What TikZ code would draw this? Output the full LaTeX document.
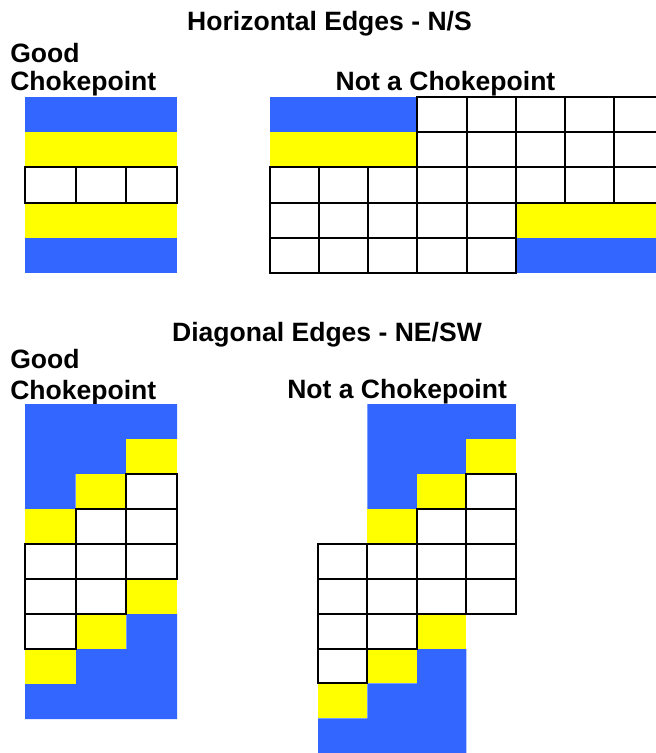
\documentclass[tikz,border=0pt]{standalone}
\usepackage{fontspec}
\setmainfont{Liberation Sans}
\definecolor{cell-blue}{HTML}{3366FF}
\definecolor{cell-yellow}{HTML}{FFFF00}

\begin{document}
\begin{tikzpicture}[x=0.75pt, y=-0.75pt,
      every node/.style={font=\fontsize{19.9}{24}\selectfont\bfseries, inner sep=0pt},
      bluecell/.style={fill=cell-blue},
      yellowcell/.style={fill=cell-yellow},
      whitecell/.style={draw=black, line width=1.5pt, fill=white}]
    \useasboundingbox (0,0) rectangle (656,753);
    \clip (0,0) rectangle (656,753);

    \node[anchor=base] (HT) at (329.5,30) {Horizontal Edges - N/S};
    \node[anchor=base west] (HG1) at (10,62) {Good};
    \node[anchor=base west] (HG2) at (10,90) {Chokepoint};
    \node[anchor=base] (HN) at (445.5,90) {Not a Chokepoint};

    \node[anchor=base] (DT) at (327,341.5) {Diagonal Edges - NE/SW};
    \node[anchor=base west] (DG1) at (10,368) {Good};
    \node[anchor=base west] (DG2) at (10,399) {Chokepoint};
    \node[anchor=base west] (DN) at (287,398.5) {Not a Chokepoint};

    % horizontal, good
    \begin{scope}[shift={(25,97)}, x=38pt, y=-26.4pt]
      \fill[bluecell] (0,0) rectangle (3,1);
      \fill[yellowcell] (0,1) rectangle (3,2);
      \fill[yellowcell] (0,3) rectangle (3,4);
      \fill[bluecell] (0,4) rectangle (3,5);
      \foreach \c in {0,1,2}
        \draw[whitecell] (\c,2) rectangle ++(1,1);
    \end{scope}

    % horizontal, not a chokepoint
    \begin{scope}[shift={(270,97)}, x=36.86pt, y=-26.4pt]
      \fill[bluecell] (0,0) rectangle (3,1);
      \fill[yellowcell] (0,1) rectangle (3,2);
      \fill[yellowcell] (5,3) rectangle (8,4);
      \fill[bluecell] (5,4) rectangle (8,5);
      \foreach \r in {0,1}
        \foreach \c in {3,...,7}
          \draw[whitecell] (\c,\r) rectangle ++(1,1);
      \foreach \c in {0,...,7}
        \draw[whitecell] (\c,2) rectangle ++(1,1);
      \foreach \r in {3,4}
        \foreach \c in {0,...,4}
          \draw[whitecell] (\c,\r) rectangle ++(1,1);
    \end{scope}

    % diagonal, good
    \begin{scope}[shift={(25,404)}, x=38pt, y=-26.25pt]
      \fill[bluecell] (0,0) -- (3,0) -- (3,1) -- (2,1) -- (2,2) -- (1,2)
        -- (1,3) -- (0,3) -- cycle;
      \fill[bluecell] (2,6) -- (3,6) -- (3,9) -- (0,9) -- (0,8) -- (1,8)
        -- (1,7) -- (2,7) -- cycle;
      \foreach \c/\r in {2/1, 1/2, 0/3, 2/5, 1/6, 0/7}
        \fill[yellowcell] (\c,\r) rectangle ++(1,1);
      \foreach \c/\r in {2/2, 1/3, 2/3, 0/4, 1/4, 2/4, 0/5, 1/5, 0/6}
        \draw[whitecell] (\c,\r) rectangle ++(1,1);
    \end{scope}

    % diagonal, not a chokepoint
    \begin{scope}[shift={(318,404)}, x=37.1pt, y=-26.2pt]
      \fill[bluecell] (1,0) -- (4,0) -- (4,1) -- (3,1) -- (3,2) -- (2,2)
        -- (2,3) -- (1,3) -- cycle;
      \fill[bluecell] (2,7) -- (3,7) -- (3,10) -- (0,10) -- (0,9) -- (1,9)
        -- (1,8) -- (2,8) -- cycle;
      \foreach \c/\r in {3/1, 2/2, 1/3, 2/6, 1/7, 0/8}
        \fill[yellowcell] (\c,\r) rectangle ++(1,1);
      \foreach \c/\r in {3/2, 2/3, 3/3, 0/4, 1/4, 2/4, 3/4, 0/5, 1/5, 2/5, 3/5,
          0/6, 1/6, 0/7}
        \draw[whitecell] (\c,\r) rectangle ++(1,1);
    \end{scope}
  \end{tikzpicture}
\end{document}
